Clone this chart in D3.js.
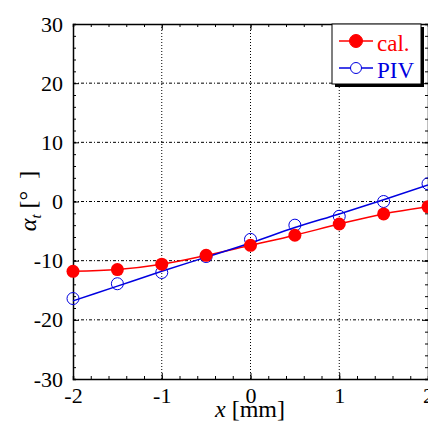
<!DOCTYPE html>
<html>
<head>
<meta charset="utf-8">
<script src="https://cdn.jsdelivr.net/npm/d3@7"></script>
<style>
  html, body { margin: 0; padding: 0; background: #fff; }
  svg { display: block; }
</style>
</head>
<body>
<div id="chart"></div>
<script>
// data
const xPos = [-2, -1.5, -1, -0.5, 0, 0.5, 1, 1.5, 2];
const calValues = [-11.8, -11.5, -10.6, -9.1, -7.4, -5.7, -3.8, -2.1, -0.9];
const pivValues = [-16.4, -13.9, -12.0, -9.3, -6.4, -4.0, -2.5, 0.0, 3.0];
const pivFit = [-16.8, -14.3, -11.8, -9.4, -7.0, -4.4, -2.1, 0.3, 2.8];
const xTicks = [-2, -1, 0, 1, 2];
const yTicks = [-30, -20, -10, 0, 10, 20, 30];

const width = 428;
const height = 428;
const margin = { top: 24, right: 0, bottom: 49, left: 73 };
const innerWidth = width - margin.left - margin.right;
const innerHeight = height - margin.top - margin.bottom;

const font = "'Liberation Serif', 'Times New Roman', serif";

const svg = d3.select("#chart")
  .append("svg")
  .attr("width", width)
  .attr("height", height)
  .style("font-family", font);

const chart = svg.append("g")
  .attr("transform", `translate(${margin.left},${margin.top})`);

const x = d3.scaleLinear().domain([-2, 2]).range([0, innerWidth]);
const y = d3.scaleLinear().domain([-30, 30]).range([innerHeight, 0]);

// grid
chart.append("g")
  .selectAll("line")
  .data(xTicks.slice(1, -1))
  .join("line")
  .attr("x1", d => x(d)).attr("x2", d => x(d))
  .attr("y1", 0).attr("y2", innerHeight)
  .attr("stroke", "#000")
  .attr("stroke-width", 1)
  .attr("stroke-dasharray", "1,2");

chart.append("g")
  .selectAll("line")
  .data(yTicks.slice(1, -1))
  .join("line")
  .attr("x1", 0).attr("x2", innerWidth)
  .attr("y1", d => y(d)).attr("y2", d => y(d))
  .attr("stroke", "#000")
  .attr("stroke-width", 1)
  .attr("stroke-dasharray", "3,2,1,2");

// axes, ticks inward on all sides
const xMinor = d3.range(-2, 2.001, 0.2).map(v => +v.toFixed(1));
const yMinor = d3.range(-30, 30.001, 2);
const plain = d => String(d);

function styleAxis(g) {
  g.attr("font-family", null).attr("font-size", null);
  g.select(".domain").attr("stroke", "#000").attr("stroke-width", 1.5);
  g.selectAll(".tick line").attr("stroke", "#000").attr("stroke-width", 1);
  g.selectAll("text")
    .style("font-family", font)
    .style("font-size", "22px")
    .attr("fill", "#000");
  // drop the empty labels of tick-only axes
  g.selectAll("text").filter(function () { return !this.textContent; }).remove();
}

chart.append("g")
  .attr("transform", `translate(0,${innerHeight})`)
  .call(d3.axisBottom(x).tickValues(xMinor).tickSize(-3).tickFormat(""))
  .call(styleAxis);
chart.append("g")
  .attr("transform", `translate(0,${innerHeight})`)
  .call(d3.axisBottom(x).tickValues(xTicks).tickSize(-6).tickPadding(8).tickFormat(plain))
  .call(styleAxis)
  .call(g => g.select(".domain").remove());

chart.append("g")
  .call(d3.axisTop(x).tickValues(xMinor).tickSize(-3).tickFormat(""))
  .call(styleAxis);
chart.append("g")
  .call(d3.axisTop(x).tickValues(xTicks).tickSize(-6).tickFormat(""))
  .call(styleAxis)
  .call(g => g.select(".domain").remove());

chart.append("g")
  .call(d3.axisLeft(y).tickValues(yMinor).tickSize(-3).tickFormat(""))
  .call(styleAxis);
chart.append("g")
  .call(d3.axisLeft(y).tickValues(yTicks).tickSize(-6).tickPadding(10).tickFormat(plain))
  .call(styleAxis)
  .call(g => g.select(".domain").remove());

chart.append("g")
  .attr("transform", `translate(${innerWidth},0)`)
  .call(d3.axisRight(y).tickValues(yMinor).tickSize(-3).tickFormat(""))
  .call(styleAxis);
chart.append("g")
  .attr("transform", `translate(${innerWidth},0)`)
  .call(d3.axisRight(y).tickValues(yTicks).tickSize(-6).tickFormat(""))
  .call(styleAxis)
  .call(g => g.select(".domain").remove());

// lines
const smoothLine = d3.line()
  .x((d, i) => x(xPos[i]))
  .y(d => y(d))
  .curve(d3.curveMonotoneX);

chart.append("path")
  .datum(calValues)
  .attr("fill", "none")
  .attr("stroke", "#ff0000")
  .attr("stroke-width", 1.5)
  .attr("d", smoothLine);

chart.append("path")
  .datum(pivFit)
  .attr("fill", "none")
  .attr("stroke", "#0000e0")
  .attr("stroke-width", 1.5)
  .attr("d", smoothLine);

// markers
chart.append("g")
  .selectAll("circle")
  .data(pivValues)
  .join("circle")
  .attr("cx", (d, i) => x(xPos[i]))
  .attr("cy", d => y(d))
  .attr("r", 6)
  .attr("fill", "none")
  .attr("stroke", "#0000e0")
  .attr("stroke-width", 1);

chart.append("g")
  .selectAll("circle")
  .data(calValues)
  .join("circle")
  .attr("cx", (d, i) => x(xPos[i]))
  .attr("cy", d => y(d))
  .attr("r", 6.5)
  .attr("fill", "#ff0000");

// axis titles
const xTitle = svg.append("text")
  .attr("x", 250)
  .attr("y", 417)
  .attr("text-anchor", "middle")
  .style("font-size", "24px");
xTitle.append("tspan").style("font-style", "italic").text("x");
xTitle.append("tspan").text("\u00a0[mm]");

const yTitle = svg.append("text")
  .attr("transform", "translate(36,201) rotate(-90)")
  .attr("text-anchor", "middle")
  .style("font-size", "24px");
yTitle.append("tspan").style("font-style", "italic").text("α");
yTitle.append("tspan").style("font-style", "italic").style("font-size", "15px").attr("dy", 5).text("t");
yTitle.append("tspan").attr("dy", -5).text("\u00a0[°\u00a0\u00a0]");

// legend
const legend = svg.append("g").attr("transform", "translate(332,24)");
legend.append("rect")
  .attr("x", 3).attr("y", 3)
  .attr("width", 89).attr("height", 60)
  .attr("fill", "#000");
legend.append("rect")
  .attr("width", 89).attr("height", 60)
  .attr("fill", "#fff")
  .attr("stroke", "#000")
  .attr("stroke-width", 1);

const legendItems = [
  { label: "cal.", color: "#ff0000", filled: true, r: 6.5 },
  { label: "PIV", color: "#0000e0", filled: false, r: 5.5 }
];

legendItems.forEach((item, i) => {
  const row = legend.append("g").attr("transform", `translate(0,${17 + i * 27})`);
  row.append("line")
    .attr("x1", 7).attr("x2", 41)
    .attr("stroke", item.color).attr("stroke-width", 1.5);
  row.append("circle")
    .attr("cx", 24).attr("r", item.r)
    .attr("fill", item.filled ? item.color : "#fff")
    .attr("stroke", item.color).attr("stroke-width", 1);
  row.append("text")
    .attr("x", 45).attr("y", 10)
    .style("font-size", "23px")
    .attr("fill", item.color)
    .text(item.label);
});
</script>
</body>
</html>
